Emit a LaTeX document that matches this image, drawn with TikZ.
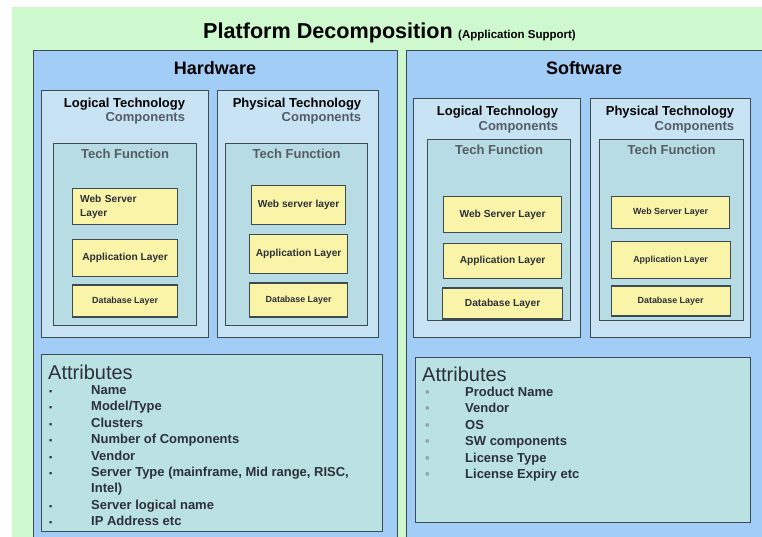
\documentclass[tikz,border=0pt]{standalone}
\usepackage{fontspec}
\setmainfont{Liberation Sans}
\usetikzlibrary{positioning}

\definecolor{bggreen}{RGB}{206,248,206}
\definecolor{panelblue}{RGB}{162,205,246}
\definecolor{compblue}{RGB}{200,227,243}
\definecolor{tfblue}{RGB}{184,220,228}
\definecolor{layeryellow}{RGB}{249,244,168}
\definecolor{attrteal}{RGB}{186,226,226}
\definecolor{frame}{RGB}{62,76,82}
\definecolor{softgray}{RGB}{84,92,100}
\definecolor{inkgray}{RGB}{45,48,56}
\definecolor{dotgray}{RGB}{150,160,165}

\newcommand{\hwdot}{\makebox[42pt][l]{\fontsize{9}{9}\selectfont ▪}}
\newcommand{\swdot}{\makebox[40pt][l]{\textcolor{dotgray}{▪}}}

\begin{document}
\begin{tikzpicture}[x=1pt,y=-1pt,inner sep=0pt]
        \tikzstyle{panel}=[draw=frame,fill=panelblue,line width=1.3pt,anchor=north west]
        \tikzstyle{comp}=[draw=frame,fill=compblue,line width=1.2pt,anchor=north west]
        \tikzstyle{tf}=[draw=frame,fill=tfblue,line width=1.2pt,anchor=north west]
        \tikzstyle{attr}=[draw=frame,fill=attrteal,line width=1.2pt,anchor=north west]
        \tikzstyle{layer}=[draw=frame,fill=layeryellow,line width=1.2pt,text=inkgray,font=\bfseries\fontsize{10.2}{14}\selectfont]
        \tikzstyle{small layer}=[font=\bfseries\fontsize{8.9}{11}\selectfont]
        \tikzstyle{head}=[font=\bfseries\fontsize{18}{20}\selectfont]
        \tikzstyle{comptitle}=[align=right,font=\bfseries\fontsize{13}{14.5}\selectfont]
        \tikzstyle{tftitle}=[text=softgray,font=\bfseries\fontsize{13}{15}\selectfont]
        \tikzstyle{attrtitle}=[text=inkgray,anchor=west,font=\fontsize{20}{22}\selectfont]
        \tikzstyle{attrlist}=[text=inkgray,anchor=base west,font=\bfseries\fontsize{13}{16.4}\selectfont]

        \clip (0,0) rectangle (762,536);
        \fill[white] (0,0) rectangle (762,536);
        \node[fill=bggreen,anchor=north west,minimum width=760pt,minimum height=540pt] (bg) at (12,7) {};

        \node[font=\bfseries\fontsize{21.6}{23}\selectfont,anchor=base west] (title) at (203,38) {Platform Decomposition};
        \node[font=\bfseries\fontsize{11.5}{13}\selectfont,base right=5pt of title] (subtitle) {(Application Support)};

        \node[panel,minimum width=364pt,minimum height=500pt] (hw) at (33,50) {};
        \node[panel,minimum width=370pt,minimum height=500pt] (sw) at (406,50) {};
        \node[head] (hwhead) at (215,68) {Hardware};
        \node[head] (swhead) at (584,68) {Software};

        % hardware side
        \node[comp,minimum width=167pt,minimum height=247pt] (hwlog) at (41,90) {};
        \node[comp,minimum width=161pt,minimum height=247pt] (hwphy) at (217,90) {};
        \node[comptitle] (hwlogt) at (124.5,111) {Logical Technology\\\textcolor{softgray}{Components}};
        \node[comptitle] (hwphyt) at (297,111) {Physical Technology\\\textcolor{softgray}{Components}};
        \node[tf,minimum width=143pt,minimum height=182pt] (hwlogtf) at (53,143) {};
        \node[tf,minimum width=142pt,minimum height=182pt] (hwphytf) at (225,143) {};
        \node[tftitle,below=6pt of hwlogtf.north] (hwlogtft) {Tech Function};
        \node[tftitle,below=6pt of hwphytf.north] (hwphytft) {Tech Function};

        \node[layer,anchor=north west,minimum width=105pt,minimum height=36pt,align=left,text width=90pt] (hlweb) at (72,188) {Web Server\\Layer};
        \node[layer,minimum width=105pt,minimum height=37pt,below=14pt of hlweb] (hlapp) {Application Layer};
        \node[layer,small layer,minimum width=105pt,minimum height=32pt,below=7pt of hlapp] (hldb) {Database Layer};

        \node[layer,anchor=north west,minimum width=94pt,minimum height=39pt] (hpweb) at (251,185) {Web server layer};
        \node[layer,minimum width=98pt,minimum height=39pt,below=9pt of hpweb] (hpapp) {Application Layer};
        \node[layer,small layer,minimum width=98pt,minimum height=34pt,below=8pt of hpapp] (hpdb) {Database Layer};

        % software side
        \node[comp,minimum width=167pt,minimum height=239pt] (swlog) at (413,98) {};
        \node[comp,minimum width=160pt,minimum height=239pt] (swphy) at (590,98) {};
        \node[comptitle] (swlogt) at (497.5,119.5) {Logical Technology\\\textcolor{softgray}{Components}};
        \node[comptitle] (swphyt) at (670,119.5) {Physical Technology\\\textcolor{softgray}{Components}};
        \node[tf,minimum width=143pt,minimum height=181pt] (swlogtf) at (427,139) {};
        \node[tf,minimum width=144pt,minimum height=181pt] (swphytf) at (599,139) {};
        \node[tftitle,below=6pt of swlogtf.north] (swlogtft) {Tech Function};
        \node[tftitle,below=6pt of swphytf.north] (swphytft) {Tech Function};

        \node[layer,anchor=north west,minimum width=118pt,minimum height=36pt] (slweb) at (443,196) {Web Server Layer};
        \node[layer,minimum width=118pt,minimum height=35pt,below=10pt of slweb] (slapp) {Application Layer};
        \node[layer,minimum width=120pt,minimum height=31pt,below=8pt of slapp] (sldb) {Database Layer};

        \node[layer,small layer,anchor=north west,minimum width=118pt,minimum height=32pt] (spweb) at (611,196) {Web Server Layer};
        \node[layer,small layer,minimum width=119pt,minimum height=37pt,below=12pt of spweb] (spapp) {Application Layer};
        \node[layer,small layer,minimum width=119pt,minimum height=30pt,below=6pt of spapp] (spdb) {Database Layer};

        % attributes
        \node[attr,minimum width=341pt,minimum height=177pt] (hwattr) at (41,354) {};
        \node[attr,minimum width=335pt,minimum height=165pt] (swattr) at (415,357) {};
        \node[attrtitle] (hwattrt) at (48,372) {Attributes};
        \node[attrtitle] (swattrt) at (422,374) {Attributes};
        \node[attrlist] (hwlist) at (49,394.5) {\begin{tabular}[t]{@{}l@{}}
                \hwdot Name\\
                \hwdot Model/Type\\
                \hwdot Clusters\\
                \hwdot Number of Components\\
                \hwdot Vendor\\
                \hwdot Server Type (mainframe, Mid range, RISC,\\
                \hspace{42pt}Intel)\\
                \hwdot Server logical name\\
                \hwdot IP Address etc
        \end{tabular}};
        \node[attrlist] (swlist) at (425,396.5) {\begin{tabular}[t]{@{}l@{}}
                \swdot Product Name\\
                \swdot Vendor\\
                \swdot OS\\
                \swdot SW components\\
                \swdot License Type\\
                \swdot License Expiry etc
        \end{tabular}};
\end{tikzpicture}
\end{document}
